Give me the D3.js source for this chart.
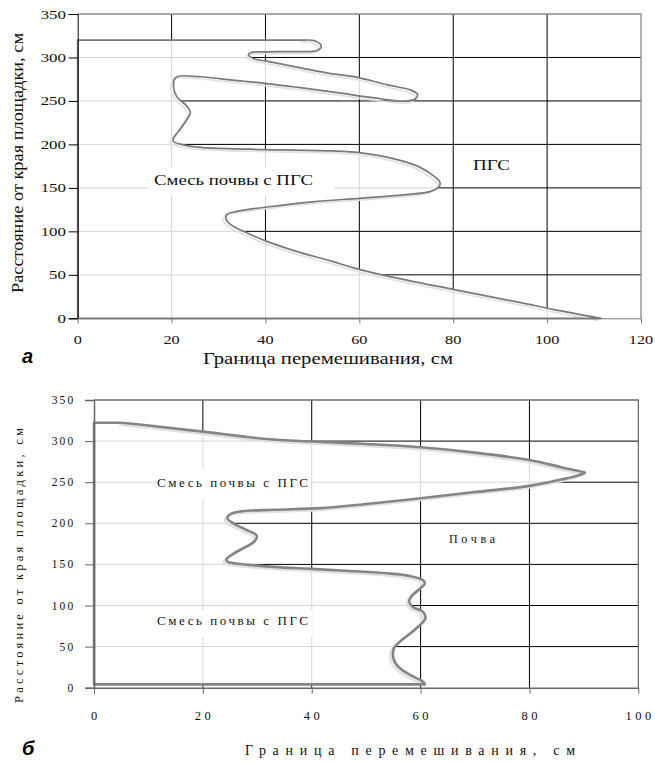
<!DOCTYPE html>
<html><head><meta charset="utf-8">
<script src="https://cdn.jsdelivr.net/npm/d3@7"></script>
<style>body{margin:0;background:#fff}svg{display:block}
.serif{font-family:"Liberation Serif","Times New Roman",Tinos,serif}
.sans{font-family:"Liberation Sans",Arial,sans-serif}</style>
</head><body><svg id="c" width="655" height="762"></svg>
<script>
// ---------- data ----------
const yTicks = [0, 50, 100, 150, 200, 250, 300, 350];
const xTicksTop = [0, 20, 40, 60, 80, 100, 120];
const xTicksBottom = [0, 20, 40, 60, 80, 100];

// Panel "а": boundary of mixing (x, cm) vs distance from edge (y, cm)
const topCurveX = [0, 48, 50.6, 51.9, 51.0, 46, 40.3, 36.8, 36.4, 37.5, 40.5, 47.5, 53.9, 58.8, 66, 70.9, 72.4, 72, 69.9, 62.4, 55.3, 47, 40.3, 33, 26.1, 21.8, 20.8, 20.4, 21.1, 23.3, 24, 23.3, 21.5, 20.4, 20.4, 22.5, 26.1, 36.8, 53.9, 60, 67, 72.4, 75.9, 77.2, 76.9, 75.2, 69.5, 60, 50, 40.3, 34, 31.8, 31.6, 32.5, 35.3, 40.3, 47.5, 53.9, 58.8, 66, 80.2, 94.4, 101.5, 111.5];
const topCurveY = [320, 320, 319, 313, 308, 306.8, 306.5, 305.5, 302.9, 298.5, 295.5, 288, 281.5, 278, 268.5, 262.5, 257.5, 252.5, 249.8, 254, 259.5, 265.5, 270, 274, 277.8, 278.7, 276.5, 267, 255, 244, 236.5, 229, 215, 207, 203.5, 199.5, 196.5, 194.5, 192.5, 190.5, 184, 175, 163.5, 156, 151, 146, 142, 138, 134, 128, 123, 119.5, 114, 108, 100, 88.5, 75.5, 66, 58, 48.5, 33, 18, 10, 0];

// Panel "б"
const bottomCurveX = [0, 5.1, 10, 20, 31.7, 40, 50, 60, 70, 80, 86, 89, 90.2, 89, 86, 80, 70, 60, 50, 41.6, 33, 27, 25, 24.5, 25.6, 28, 29.9, 29.5, 27.5, 25.6, 24.3, 24.6, 26.8, 33, 40, 47, 53.8, 58, 60.4, 60.8, 59.8, 58.3, 57.9, 58.5, 60.4, 60.9, 59.2, 56.2, 55.1, 55.1, 56.2, 58.7, 60.5, 60.8, 0];
const bottomCurveY = [322.4, 322.4, 319, 311.5, 302.6, 299.5, 296.5, 292.5, 286, 277, 268, 263.6, 261.6, 258.3, 253.5, 245.5, 238, 230.5, 223.5, 218.5, 216.5, 214.5, 211, 206, 200, 192, 185, 178, 170, 163, 156, 153, 150.5, 147, 144.5, 142, 139.2, 136, 131, 127, 120, 111, 104.6, 98.6, 92.5, 84.4, 72, 56, 48, 33.7, 23.6, 13.4, 7, 4, 4];

const xTitle = "Граница перемешивания, см";
const yTitle = "Расстояние от края площадки, см";
const mixLabel = "Смесь почвы с ПГС";
const pgsLabel = "ПГС";
const soilLabel = "Почва";

// ---------- drawing ----------
const svg = d3.select('#c');
svg.append('rect').attr('width', 655).attr('height', 762).attr('fill', '#fff');

function panel(cfg) {
  const g = svg.append('g');
  const x = d3.scaleLinear().domain(cfg.xDomain).range(cfg.xRange);
  const y = d3.scaleLinear().domain([0, 350]).range(cfg.yRange);
  const [x0, x1] = cfg.xRange, [y0, y1] = cfg.yRange;
  const xt = cfg.xTicks, yt = yTicks;

  // black gridlines
  g.selectAll('.vg').data(xt.slice(1, -1)).join('line')
    .attr('x1', d => x(d)).attr('x2', d => x(d)).attr('y1', y0).attr('y2', y1)
    .attr('stroke', '#000').attr('stroke-width', 1);
  g.selectAll('.hg').data(yt.slice(1, -1)).join('line')
    .attr('x1', x0).attr('x2', x1).attr('y1', d => y(d)).attr('y2', d => y(d))
    .attr('stroke', '#000').attr('stroke-width', 1);

  // boundary path: straight head, smooth curve, straight tail, closed along x = 0
  const pts = cfg.cx.map((v, i) => [v, cfg.cy[i]]);
  const cs = cfg.curveStart, ce = cfg.curveEnd;
  const curvePts = pts.slice(cs, ce + 1);
  const line = d3.line().x(d => x(d[0])).y(d => y(d[1])).curve(d3.curveCatmullRom.alpha(0.5));
  const P = d => `${x(d[0])},${y(d[1])}`;
  const head = 'M' + pts.slice(0, cs + 1).map(P).join('L');
  const curveD = line(curvePts);
  const tail = pts.slice(ce + 1).map(d => 'L' + P(d)).join('');
  const last = pts[pts.length - 1];
  const closing = `L${P([0, last[1]])}L${P([0, pts[0][1]])}Z`;
  const full = head + curveD.replace(/^M[^A-Za-z]*/, '') + tail + closing;

  // semi-opaque white fill of the mixed zone (washes gridlines to light grey)
  g.append('path').attr('d', full).attr('fill', '#fff').attr('fill-opacity', 0.84);

  // label boxes
  (cfg.boxes || []).forEach(b => {
    g.append('rect').attr('x', b[0]).attr('y', b[1]).attr('width', b[2]).attr('height', b[3]).attr('fill', '#fff');
  });

  // border
  g.append('path').attr('d', `M${x0},${y1}H${x1}V${y0}`).attr('fill', 'none')
    .attr('stroke', cfg.borderColor).attr('stroke-width', cfg.borderWidth);

  // shadow + boundary stroke
  g.append('path').attr('d', curveD).attr('fill', 'none')
    .attr('stroke', '#e2e2e2').attr('stroke-width', cfg.curveWidth)
    .attr('transform', 'translate(-2.5,2)');
  g.append('path').attr('d', full).attr('fill', 'none')
    .attr('stroke', cfg.curveColor).attr('stroke-width', cfg.curveWidth).attr('stroke-linejoin', 'round');

  // axes (ticks only, labels drawn separately)
  const ax = g.append('g').attr('transform', `translate(${x0},0)`)
    .call(d3.axisLeft(y).tickValues(yt).tickSize(cfg.yTickLen).tickFormat(''));
  ax.select('.domain').attr('stroke', cfg.leftAxisColor).attr('stroke-width', cfg.leftAxisWidth);
  ax.selectAll('.tick line').attr('stroke', cfg.leftAxisColor);
  const bx = g.append('g').attr('transform', `translate(0,${y0})`)
    .call(d3.axisBottom(x).tickValues(xt).tickSize(cfg.xTickLen).tickSizeOuter(0).tickFormat(''));
  bx.select('.domain').attr('stroke', cfg.bottomAxisColor).attr('stroke-width', cfg.bottomAxisWidth);
  bx.selectAll('.tick line').attr('stroke', cfg.bottomAxisColor);

  // tick labels
  yt.forEach(v => {
    g.append('text').attr('class', 'serif').text(v)
      .attr('transform', `translate(${cfg.yLabelX},${y(v) + cfg.yLabelDy}) scale(${cfg.tickSx},1)`)
      .attr('text-anchor', 'end').attr('font-size', cfg.yLabelSize)
      .attr('letter-spacing', cfg.yLabelLs).attr('fill', '#111');
  });
  xt.forEach(v => {
    g.append('text').attr('class', 'serif').text(v)
      .attr('transform', `translate(${x(v) + cfg.xLabelLs / 2},${cfg.xLabelY}) scale(${cfg.tickSx},1)`)
      .attr('text-anchor', 'middle').attr('font-size', cfg.xLabelSize)
      .attr('letter-spacing', cfg.xLabelLs).attr('fill', '#111');
  });

  // titles
  g.append('text').attr('class', 'serif').text(xTitle).attr('x', cfg.xTitle[0]).attr('y', cfg.xTitle[1])
    .attr('text-anchor', 'middle').attr('font-size', cfg.xTitle[2])
    .attr('textLength', cfg.xTitle[3]).attr('lengthAdjust', cfg.xTitle[4]).attr('fill', '#111');
  g.append('text').attr('class', 'serif').text(yTitle)
    .attr('transform', `translate(${cfg.yTitle[0]},${cfg.yTitle[1]}) rotate(-90)`)
    .attr('text-anchor', 'middle').attr('font-size', cfg.yTitle[2])
    .attr('textLength', cfg.yTitle[3]).attr('lengthAdjust', cfg.yTitle[4]).attr('fill', '#111');

  // in-plot labels
  cfg.labels.forEach(l => {
    g.append('text').attr('class', 'serif').text(l.t).attr('x', l.x).attr('y', l.y)
      .attr('font-size', l.s)
      .attr('textLength', l.w).attr('lengthAdjust', l.adj).attr('fill', '#111');
  });

  // panel letter
  g.append('text').attr('class', 'sans').text(cfg.letter[0]).attr('x', cfg.letter[1]).attr('y', cfg.letter[2])
    .attr('font-weight', 'bold').attr('font-style', 'italic')
    .attr('font-size', 20).attr('fill', '#000');
}

panel({
  xDomain: [0, 120], xRange: [77.7, 641], yRange: [318.3, 14], xTicks: xTicksTop,
  cx: topCurveX, cy: topCurveY, curveStart: 1, curveEnd: topCurveX.length - 1,
  boxes: [[148, 167, 186, 28]],
  borderColor: '#8a8a8a', borderWidth: 1.3,
  curveColor: '#7a7a7a', curveWidth: 1.7,
  leftAxisColor: '#000', leftAxisWidth: 1, bottomAxisColor: '#777', bottomAxisWidth: 1,
  yTickLen: 9, xTickLen: 5,
  yLabelX: 66, yLabelDy: 4.5, yLabelSize: 13, yLabelLs: 0, tickSx: 1.3,
  xLabelY: 344, xLabelSize: 12.5, xLabelLs: 0,
  xTitle: [328, 364, 17, 250, 'spacingAndGlyphs'],
  yTitle: [23, 163, 16, 260, 'spacingAndGlyphs'],
  labels: [
    {t: mixLabel, x: 154, y: 185, s: 15, w: 159, adj: 'spacingAndGlyphs'},
    {t: pgsLabel, x: 473, y: 170, s: 15, w: 37, adj: 'spacingAndGlyphs'}
  ],
  letter: ['а', 22, 363]
});

panel({
  xDomain: [0, 100], xRange: [94, 638.3], yRange: [687.7, 400], xTicks: xTicksBottom,
  cx: bottomCurveX, cy: bottomCurveY, curveStart: 1, curveEnd: bottomCurveX.length - 2,
  boxes: [[157, 470, 154, 28], [155, 610, 157, 27]],
  borderColor: '#707070', borderWidth: 1.3,
  curveColor: '#858585', curveWidth: 2.6,
  leftAxisColor: '#666', leftAxisWidth: 1.5, bottomAxisColor: '#666', bottomAxisWidth: 1.5,
  yTickLen: 9, xTickLen: 6,
  yLabelX: 75.5, yLabelDy: 4, yLabelSize: 11.5, yLabelLs: 2.2, tickSx: 1,
  xLabelY: 720, xLabelSize: 12.5, xLabelLs: 3.5,
  xTitle: [410, 755, 14, 330, 'spacing'],
  yTitle: [23, 565.5, 12.5, 275, 'spacing'],
  labels: [
    {t: mixLabel, x: 157, y: 487, s: 13, w: 151, adj: 'spacing'},
    {t: mixLabel, x: 157, y: 625, s: 13, w: 151, adj: 'spacing'},
    {t: soilLabel, x: 449, y: 543, s: 12, w: 46, adj: 'spacing'}
  ],
  letter: ['б', 22, 755]
});
</script></body></html>
